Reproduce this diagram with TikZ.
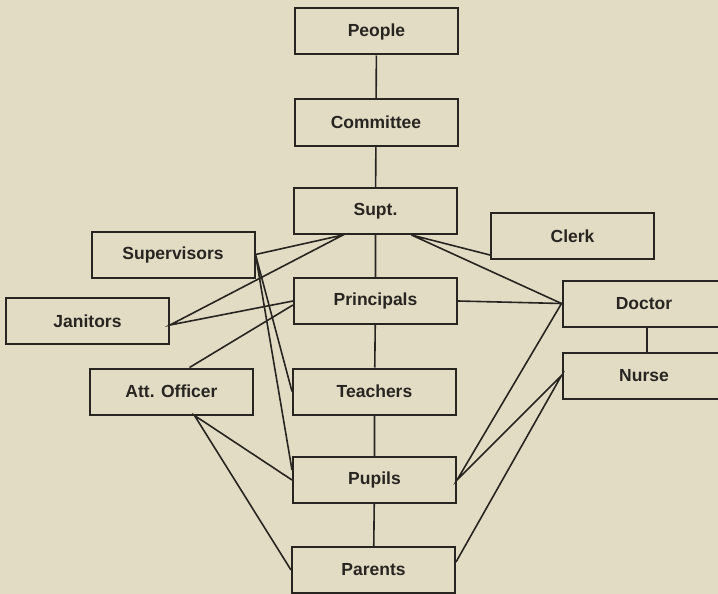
\documentclass[tikz,border=0pt]{standalone}
\usepackage{fontspec}
\setmainfont{Liberation Sans}
\definecolor{papier}{RGB}{226,220,197}
\definecolor{encre}{RGB}{40,37,33}
\begin{document}
\begin{tikzpicture}[x=1pt,y=-1pt,
        boite/.style={draw=encre,line width=2pt,minimum width=163pt,minimum height=46pt,inner sep=0pt,text=encre,font=\fontsize{17.5}{20}\selectfont\bfseries},
        lien/.style={draw=encre,line width=1.6pt}]
        \useasboundingbox (0,0) rectangle (718,594);
        \fill[papier] (0,0) rectangle (718,594); %Fond
        \clip (0,0) rectangle (718,594);
        \node[boite] (people) at (376.5,31.5) {People};
        \node[boite] (committee) at (376,122.5) {Committee};
        \node[boite] (supt) at (375.5,211) {Supt.};
        \node[boite] (principals) at (375.5,301) {Principals};
        \node[boite] (teachers) at (374.5,391.5) {Teachers};
        \node[boite] (pupils) at (374.5,480) {Pupils};
        \node[boite] (parents) at (373.5,570) {Parents};
        \node[boite] (supervisors) at (173,254.5) {Supervisors}; %Colonne gauche
        \node[boite] (janitors) at (87.5,321) {Janitors};
        \node[boite] (attofficer) at (171.5,391.5) {Att. Officer};
        \node[boite] (clerk) at (572.5,236) {Clerk}; %Colonne droite
        \node[boite] (doctor) at (644,303.5) {Doctor};
        \node[boite] (nurse) at (644,375.5) {Nurse};
        \draw[lien] (people) -- (committee) -- (supt) -- (principals) -- (teachers) -- (pupils) -- (parents); %Axe central
        \draw[lien] ([xshift=3pt]doctor.south) -- ([xshift=3pt]nurse.north);
        \draw[lien] (supervisors.east) -- ([xshift=-32.5pt]supt.south) -- ([yshift=-4pt]janitors.east) -- (principals.west); %Gauche
        \draw[lien] ([xshift=18pt]attofficer.north) -- ([yshift=-4pt]principals.west);
        \draw[lien] (teachers.west) -- (supervisors.east) -- ([yshift=10pt]pupils.west);
        \draw[lien] (pupils.west) -- ([xshift=23pt]attofficer.south) -- (parents.west);
        \draw[lien] ([yshift=5pt]clerk.south west) -- ([xshift=36pt]supt.south) -- (doctor.west); %Droite
        \draw[lien] (principals.east) -- (doctor.west) -- (pupils.east) -- (nurse.west) -- ([yshift=8pt]parents.east);
    \end{tikzpicture}
\end{document}
